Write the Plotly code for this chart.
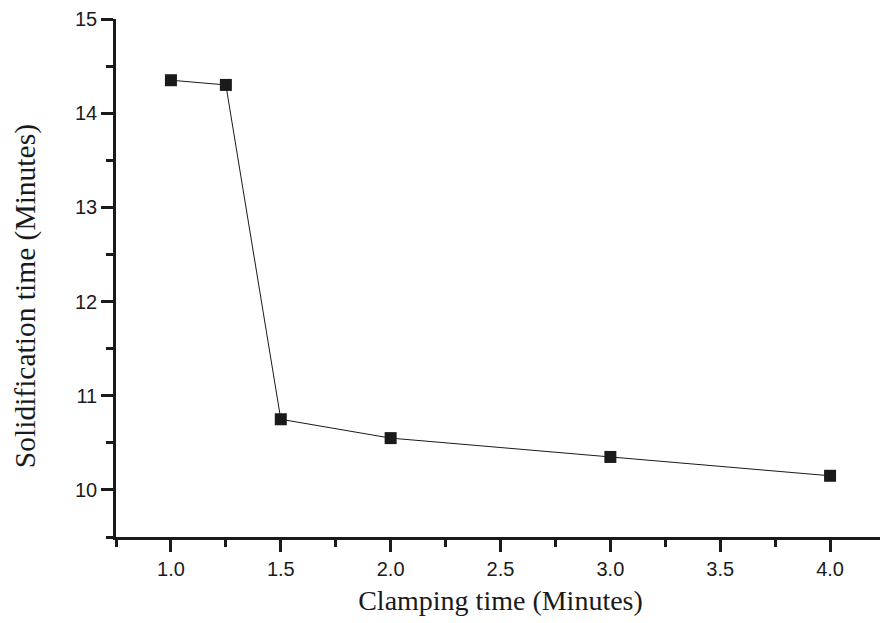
import plotly.graph_objects as go

clamping_time = [1.0, 1.25, 1.5, 2.0, 3.0, 4.0]
solidification_time = [14.35, 14.3, 10.75, 10.55, 10.35, 10.15]

x_tick_vals = [1.0, 1.5, 2.0, 2.5, 3.0, 3.5, 4.0]
x_tick_text = ["1.0", "1.5", "2.0", "2.5", "3.0", "3.5", "4.0"]
y_tick_vals = [10, 11, 12, 13, 14, 15]
y_tick_text = ["10", "11", "12", "13", "14", "15"]

fig = go.Figure()
fig.add_trace(go.Scatter(
    x=clamping_time, y=solidification_time,
    mode="lines+markers",
    line=dict(color="#1a1a1a", width=1),
    marker=dict(symbol="square", size=12, color="#1a1a1a",
                line=dict(color="#1a1a1a", width=0)),
    showlegend=False,
))

axis_common = dict(
    showgrid=False, zeroline=False, showline=True,
    linecolor="#1a1a1a", linewidth=2.5,
    ticks="outside", ticklen=12, tickwidth=2.5, tickcolor="#1a1a1a",
    ticklabeloverflow="allow", automargin=False,
    tickfont=dict(family="Liberation Sans, Arial, sans-serif", size=20, color="#1a1a1a"),
)

fig.update_xaxes(
    range=[0.75, 4.25], tickvals=x_tick_vals, ticktext=x_tick_text,
    minor=dict(dtick=0.25, tick0=0, ticks="outside", ticklen=7, tickwidth=2.5, tickcolor="#1a1a1a"),
    title=dict(text="Clamping time (Minutes)",
               font=dict(family="Liberation Serif, Times New Roman, serif", size=28, color="#1a1a1a"),
               standoff=12),
    **axis_common,
)
fig.update_yaxes(
    range=[9.5, 15], tickvals=y_tick_vals, ticktext=y_tick_text,
    minor=dict(dtick=0.5, tick0=0, ticks="outside", ticklen=7, tickwidth=2.5, tickcolor="#1a1a1a"),
    **axis_common,
)

fig.add_annotation(
    text="Solidification time (Minutes)", textangle=-90,
    xref="paper", yref="paper", x=-0.1183, y=0.465,
    xanchor="center", yanchor="middle", showarrow=False,
    font=dict(family="Liberation Serif, Times New Roman, serif", size=29.5, color="#1a1a1a"),
)

fig.update_layout(
    width=880, height=615,
    margin=dict(l=108, r=3, t=11, b=86, pad=0),
    paper_bgcolor="white", plot_bgcolor="white",
)

fig.write_html("out.html")
